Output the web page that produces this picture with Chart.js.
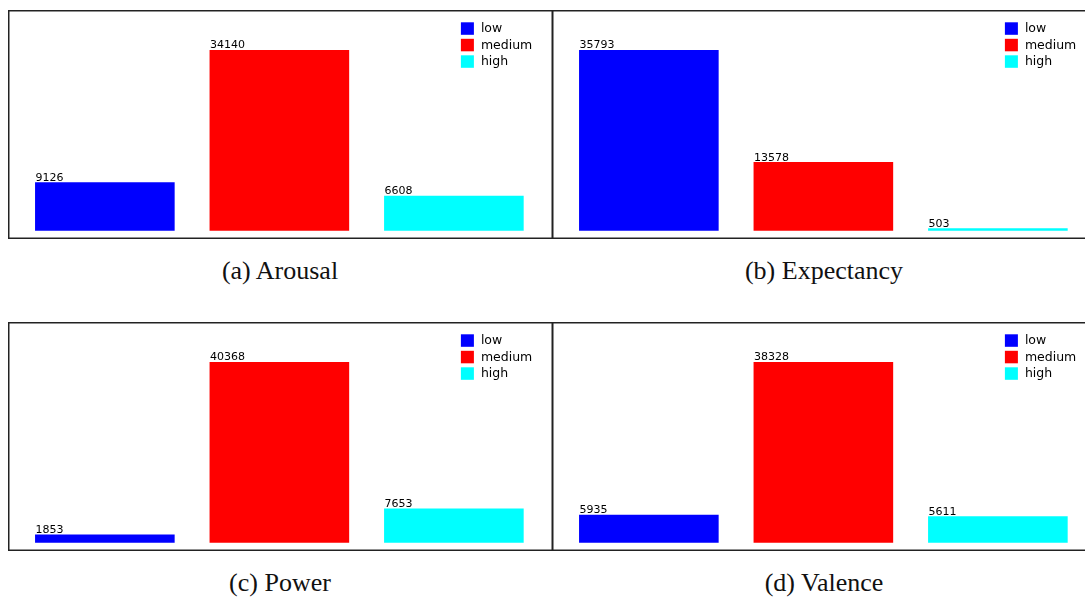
<!DOCTYPE html>
<html>
<head>
<meta charset="utf-8">
<script src="https://cdn.jsdelivr.net/npm/chart.js@4.4.0/dist/chart.umd.min.js"></script>
<style>
  html, body { margin: 0; padding: 0; background: #fff; }
  body { width: 1085px; height: 598px; position: relative; overflow: hidden; }
  canvas { position: absolute; }
  .caption {
    position: absolute; width: 400px; text-align: center;
    font-family: "Liberation Serif", "Times New Roman", serif;
    font-size: 26px; line-height: 30px; color: #111;
  }
</style>
</head>
<body>
<canvas id="arousal" width="545" height="229" style="left:8px;top:10px"></canvas>
<canvas id="expectancy" width="545" height="229" style="left:552px;top:10px"></canvas>
<canvas id="power" width="545" height="229" style="left:8px;top:322px"></canvas>
<canvas id="valence" width="545" height="229" style="left:552px;top:322px"></canvas>

<div class="caption" style="left:80px;top:256px">(a) Arousal</div>
<div class="caption" style="left:624px;top:256px">(b) Expectancy</div>
<div class="caption" style="left:80px;top:568px">(c) Power</div>
<div class="caption" style="left:624px;top:568px">(d) Valence</div>

<script>
/* ---- data ---- */
const categories = ["low", "medium", "high"];
const barColors = ["#0000ff", "#ff0000", "#00ffff"];

const arousal = [9126, 34140, 6608];
const expectancy = [35793, 13578, 503];
const power = [1853, 40368, 7653];
const valence = [5935, 38328, 5611];

/* ---- plugins ---- */
// box around the whole plot area (matplotlib-style frame)
const frameBox = {
  id: "frameBox",
  afterDraw(chart) {
    const { ctx, chartArea: a } = chart;
    ctx.save();
    ctx.strokeStyle = "#222";
    ctx.lineWidth = 1.5;
    ctx.strokeRect(a.left + 0.75, a.top + 0.75, a.width - 1.5, a.height - 1.5);
    ctx.restore();
  }
};

// count written just above the left edge of each bar
const valueLabels = {
  id: "valueLabels",
  afterDatasetsDraw(chart) {
    const ctx = chart.ctx;
    ctx.save();
    ctx.font = '11px "DejaVu Sans"';
    ctx.fillStyle = "#000";
    ctx.textBaseline = "alphabetic";
    chart.data.datasets.forEach((ds, i) => {
      chart.getDatasetMeta(i).data.forEach((bar, j) => {
        ctx.fillText(String(ds.data[j].y), bar.x - bar.width / 2 + 0.5, bar.y - 1.5);
      });
    });
    ctx.restore();
  }
};

// legend in the top right corner, inside the frame
const cornerLegend = {
  id: "cornerLegend",
  afterDraw(chart) {
    const { ctx, chartArea: a } = chart;
    const x0 = a.left + a.width * 0.831;
    let y0 = a.top + 12.3;
    ctx.save();
    ctx.font = '12.5px "DejaVu Sans"';
    ctx.textBaseline = "middle";
    chart.data.datasets.forEach(ds => {
      ctx.fillStyle = ds.backgroundColor;
      ctx.fillRect(x0, y0, 13, 12.5);
      ctx.fillStyle = "#000";
      ctx.fillText(ds.label, x0 + 20, y0 + 6.5);
      y0 += 16.5;
    });
    ctx.restore();
  }
};

/* ---- one panel ---- */
function renderPanel(canvasId, values) {
  const top = Math.max(...values);
  return new Chart(document.getElementById(canvasId), {
    type: "bar",
    data: {
      datasets: categories.map((cat, i) => ({
        label: cat,
        data: [{ x: i, y: values[i] }],
        backgroundColor: barColors[i],
        borderWidth: 0,
        grouped: false,
        categoryPercentage: 1,
        barPercentage: 0.8
      }))
    },
    options: {
      responsive: false,
      animation: false,
      devicePixelRatio: 1,
      layout: { padding: 0 },
      plugins: {
        legend: { display: false },
        tooltip: { enabled: false }
      },
      scales: {
        x: {
          type: "linear",
          display: false,
          offset: false,
          grace: 0,
          min: -0.555,
          max: 2.568,
          ticks: { stepSize: 1, includeBounds: false }
        },
        y: {
          display: false,
          min: -0.046 * top,
          max: 1.221 * top
        }
      }
    },
    plugins: [valueLabels, frameBox, cornerLegend]
  });
}

renderPanel("arousal", arousal);
renderPanel("expectancy", expectancy);
renderPanel("power", power);
renderPanel("valence", valence);
</script>
</body>
</html>
